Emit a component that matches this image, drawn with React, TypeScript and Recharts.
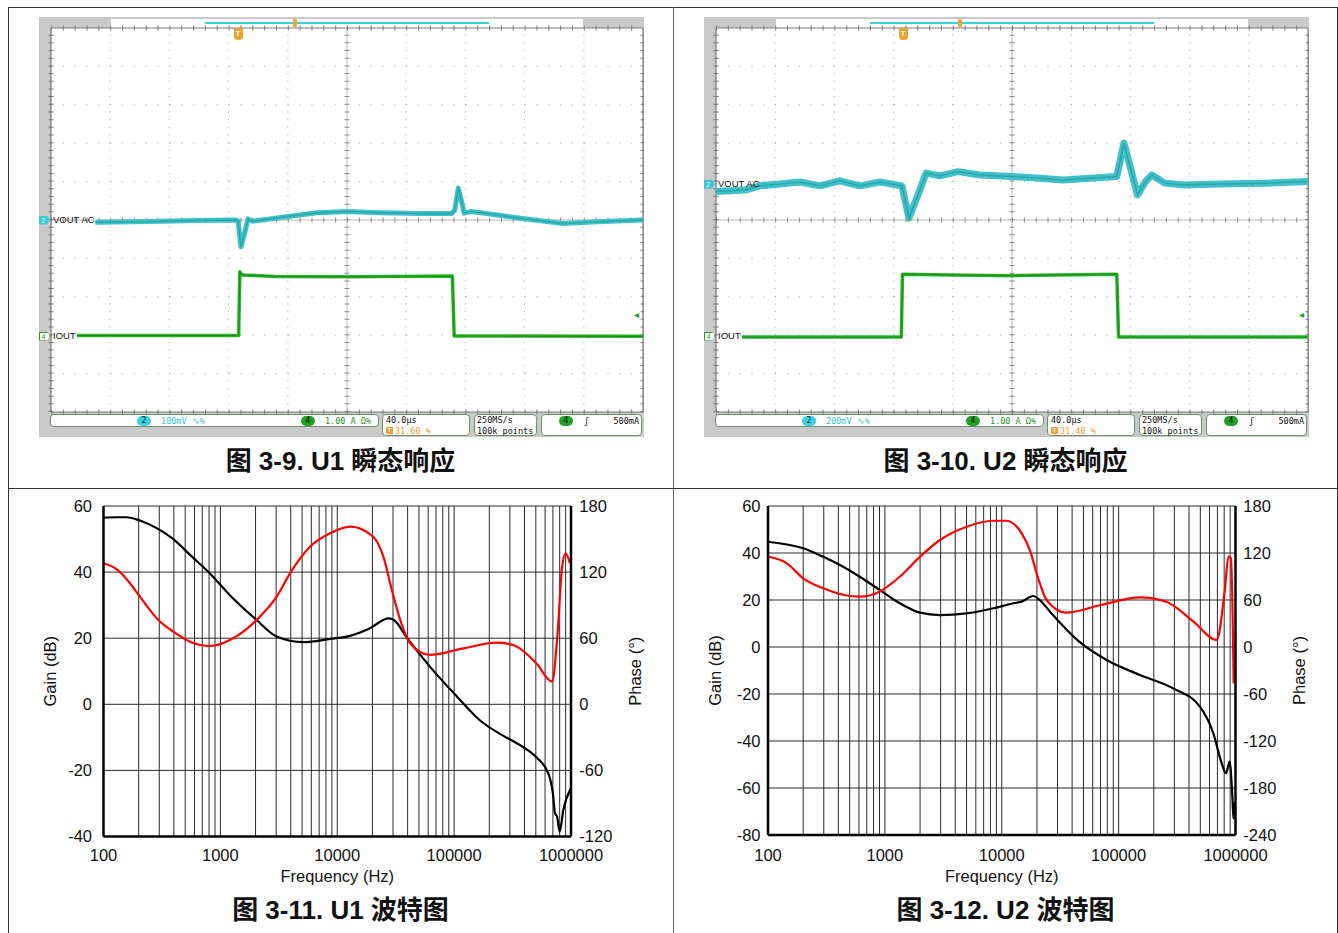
import React from "react";
import { CartesianGrid, Line, LineChart, ReferenceLine, XAxis, YAxis } from "recharts";

const FONT = '"Liberation Sans", Arial, "Noto Sans CJK SC", sans-serif';
const MONO = '"DejaVu Sans Mono", "Liberation Mono", monospace';

// Scope captures: time in divisions (0..10), amplitude in divisions from the centre line
const U1_VOUT_T = [0.75, 1.67, 2.47, 3.11, 3.16, 3.21, 3.27, 3.33, 3.4, 3.56, 4.04, 4.49, 5.01, 5.56, 6.23, 6.77, 6.82, 6.88, 6.93, 6.98, 7.08, 7.26, 7.96, 8.65, 9.34, 10];
const U1_VOUT_V = [-0.06, -0.04, -0.01, 0, -0.02, -0.7, -0.35, 0.03, -0.03, 0, 0.1, 0.19, 0.22, 0.19, 0.17, 0.17, 0.26, 0.83, 0.52, 0.18, 0.22, 0.19, 0.04, -0.09, -0.04, 0];
const U1_IOUT_T = [0.44, 3.17, 3.19, 3.23, 3.8, 5.05, 6.78, 6.81, 10];
const U1_IOUT_V = [-3.01, -3.01, -1.35, -1.43, -1.47, -1.48, -1.46, -3.02, -3.03];

const U2_VOUT_T = [0, 0.49, 0.74, 1.08, 1.42, 1.76, 2.09, 2.43, 2.77, 3.14, 3.26, 3.41, 3.55, 3.78, 4.09, 4.46, 5, 5.47, 5.86, 6.32, 6.77, 6.89, 6.99, 7.12, 7.25, 7.36, 7.58, 7.91, 8.51, 9.27, 10];
const U2_VOUT_V = [0.74, 0.78, 0.89, 0.94, 0.99, 0.89, 1.02, 0.89, 0.99, 0.89, 0.05, 0.65, 1.22, 1.15, 1.26, 1.17, 1.13, 1.09, 1.04, 1.09, 1.13, 2.0, 1.43, 0.65, 0.99, 1.17, 0.96, 0.91, 0.94, 0.96, 1.0];
const U2_IOUT_T = [0.44, 3.13, 3.15, 3.95, 5, 6.77, 6.8, 10];
const U2_IOUT_V = [-3.05, -3.05, -1.41, -1.43, -1.45, -1.41, -3.05, -3.05];

// Bode plots: frequency (Hz), gain (dB), phase (deg)
const U1_GAIN_FREQ = [100, 130, 158, 205, 295, 396, 550, 814, 1206, 2042, 3030, 5100, 8700, 12900, 15700, 19000, 27500, 30500, 39700, 62000, 106000, 165000, 242000, 364000, 500000, 640000, 700000, 730000, 760000, 800000, 860000, 1000000];
const U1_GAIN_DB = [56.5, 56.6, 56.6, 55.6, 53, 50, 45.2, 39.6, 33, 25.5, 20.5, 18.8, 19.8, 20.7, 21.7, 23, 26, 25.5, 20, 11.4, 2.3, -4.75, -8.8, -12.3, -15.9, -20.9, -27, -33, -34, -38.5, -32, -25.4];
const U1_PHASE_FREQ = [100, 130, 158, 205, 295, 396, 550, 814, 1206, 2042, 3030, 3940, 5840, 8700, 12900, 20300, 24800, 29300, 34600, 42000, 62000, 120000, 232000, 320000, 505000, 690000, 760000, 840000, 900000, 980000];
const U1_PHASE_DEG = [128, 122.5, 113.5, 97.7, 76.5, 65.9, 56.8, 52.9, 58.4, 76.5, 97.7, 118.9, 143, 155.2, 161.2, 152.1, 134, 103.8, 76.5, 55.4, 44.8, 50.8, 55.9, 53.8, 37.2, 20.5, 58.4, 124.9, 137, 128];

const U2_GAIN_FREQ = [100, 200, 297, 413, 610, 900, 1340, 2000, 2960, 5000, 8500, 12600, 14800, 18600, 20300, 27400, 46000, 79000, 152000, 293000, 496000, 646000, 762000, 830000, 890000, 940000, 960000, 980000];
const U2_GAIN_DB = [44.8, 42, 38.4, 34.9, 29.9, 24.3, 18.6, 14.6, 13.6, 14.3, 16.5, 18.6, 19.3, 21.7, 20.7, 13.6, 2.3, -5.5, -11.9, -17.6, -25.4, -36.7, -49.5, -53.7, -48.8, -63.7, -72.9, -66];
const U2_PHASE_FREQ = [100, 145, 200, 297, 413, 610, 900, 1340, 2000, 2960, 5000, 8500, 10900, 14800, 17400, 20300, 24200, 35500, 70000, 152000, 256000, 437000, 690000, 810000, 870000, 915000, 965000];
const U2_PHASE_DEG = [115.3, 106.8, 87.7, 74.9, 67.7, 64.2, 70.6, 89.7, 115.3, 136.6, 153.6, 161.2, 161.2, 145.1, 123.8, 89.7, 60, 43.8, 53.6, 63.4, 57.8, 32.3, 9, 72.8, 115.3, 113, -46.3];

const DECADES = [100, 1000, 10000, 100000, 1000000];
const MULTIPLIERS = [1, 2, 3, 4, 5, 6, 7, 8, 9];
const FREQ_GRID = [...DECADES.slice(0, -1).flatMap((d) => MULTIPLIERS.map((m) => m * d)), 1000000];

const U1_GAIN_TICKS = [-40, -20, 0, 20, 40, 60];
const U1_PHASE_TICKS = [-120, -60, 0, 60, 120, 180];
const U2_GAIN_TICKS = [-80, -60, -40, -20, 0, 20, 40, 60];
const U2_PHASE_TICKS = [-240, -180, -120, -60, 0, 60, 120, 180];

const SCOPE_DIV_X = [1, 2, 3, 4, 6, 7, 8, 9];
const SCOPE_DIV_Y = [-4, -3, -2, -1, 1, 2, 3, 4];

type Row = Record<string, number>;

function mergeSeries(xKey: string, parts: [string, number[], number[]][]): Row[] {
  const rows: Row[] = [];
  for (const [key, xs, ys] of parts) xs.forEach((x, i) => rows.push({ [xKey]: x, [key]: ys[i] }));
  return rows.sort((a, b) => a[xKey] - b[xKey]);
}

const GRID_DOT = "#9a9a9a";
const H_DOTS = "1 10.84";
const V_DOTS = "1 6.68";

function Badge({ x, y, color, label }: { x: number; y: number; color: string; label: string }) {
  return (
    <div
      style={{
        position: "absolute", left: x - 7, top: y - 5, width: 14, height: 10, borderRadius: 5,
        background: color, color: "#111", fontSize: 8, lineHeight: "10px", textAlign: "center", fontFamily: MONO,
      }}
    >
      {label}
    </div>
  );
}

function ScopeScreen({
  left, rows, voltsPerDiv, trigPct, voutLevel, band,
}: { left: number; rows: Row[]; voltsPerDiv: string; trigPct: string; voutLevel: number; band: number }) {
  const txt = (x: number, y: number, s: string, color: string, extra: React.CSSProperties = {}) => (
    <div style={{ position: "absolute", left: x, top: y - 6, height: 12, lineHeight: "12px", fontSize: 8.5, fontFamily: MONO, color, whiteSpace: "pre", ...extra }}>
      {s}
    </div>
  );
  const box = (x: number, w: number, h: number) => (
    <div style={{ position: "absolute", left: x, top: 397, width: w, height: h, border: "1px solid #6f8f6f", borderRadius: 4, background: "#fff", boxSizing: "border-box" }} />
  );
  return (
    <div style={{ position: "absolute", left, top: 17, width: 605, height: 420, background: "#c9c9c9", fontFamily: FONT }}>
      <div style={{ position: "absolute", left: 72, top: 1.5, width: 472, height: 9.5, background: "#fff" }} />
      <div style={{ position: "absolute", left: 166, top: 5, width: 284, height: 1.5, background: "#3ccfd6" }} />
      <div style={{ position: "absolute", left: 253.5, top: 2, width: 4, height: 8, background: "#f2a33a", borderRadius: 1 }} />
      <div style={{ position: "absolute", left: 12, top: 11, width: 592, height: 384, background: "#fff" }} />
      <div style={{ position: "absolute", left: 0, top: 0 }}>
        <LineChart width={605} height={420} data={rows} margin={{ top: 11, right: 1, bottom: 25, left: 12 }}>
          <XAxis dataKey="t" type="number" domain={[0, 10]} hide />
          <YAxis type="number" domain={[-5, 5]} hide />
          {SCOPE_DIV_X.map((x) => (
            <ReferenceLine key={`gx${x}`} x={x} stroke={GRID_DOT} strokeDasharray={V_DOTS} />
          ))}
          {SCOPE_DIV_Y.map((y) => (
            <ReferenceLine key={`gy${y}`} y={y} stroke={GRID_DOT} strokeDasharray={H_DOTS} />
          ))}
          <ReferenceLine x={5} stroke="#b8b8b8" />
          <ReferenceLine x={5} stroke="#8a8a8a" strokeWidth={5} strokeDasharray={V_DOTS} />
          <ReferenceLine y={0} stroke="#b8b8b8" />
          <ReferenceLine y={0} stroke="#8a8a8a" strokeWidth={5} strokeDasharray={H_DOTS} />
          {[0, 10].map((x) => (
            <ReferenceLine key={`fx${x}`} x={x} stroke="#7a7a7a" strokeWidth={1.2} />
          ))}
          {[0, 10].map((x) => (
            <ReferenceLine key={`tx${x}`} x={x} stroke="#7a7a7a" strokeWidth={5} strokeDasharray={V_DOTS} />
          ))}
          {[-5, 5].map((y) => (
            <ReferenceLine key={`fy${y}`} y={y} stroke="#7a7a7a" strokeWidth={1.2} />
          ))}
          {[-5, 5].map((y) => (
            <ReferenceLine key={`ty${y}`} y={y} stroke="#7a7a7a" strokeWidth={5} strokeDasharray={H_DOTS} />
          ))}
          <Line dataKey="vout" type="linear" stroke="#40c0c8" strokeWidth={band} strokeLinejoin="round" dot={false} connectNulls isAnimationActive={false} />
          <Line dataKey="vout" type="linear" stroke="#2aa6ae" strokeWidth={1.5} dot={false} connectNulls isAnimationActive={false} />
          <Line dataKey="iout" type="linear" stroke="#2cb82c" strokeWidth={3.5} strokeLinejoin="round" dot={false} connectNulls isAnimationActive={false} />
          <Line dataKey="iout" type="linear" stroke="#1a901a" strokeWidth={1.3} dot={false} connectNulls isAnimationActive={false} />
        </LineChart>
      </div>

      {/* trigger position marker */}
      <div style={{ position: "absolute", left: 194.5, top: 11, width: 9, height: 12, background: "#f0a030", borderRadius: "1px 1px 4px 4px", color: "#fff", fontSize: 8, fontWeight: "bold", lineHeight: "12px", textAlign: "center" }}>T</div>

      {/* channel labels */}
      <div style={{ position: "absolute", left: 0, top: voutLevel - 4.5, width: 11, height: 9, background: "#35c9d8", clipPath: "polygon(0 0, 70% 0, 100% 50%, 70% 100%, 0 100%)", color: "#fff", fontSize: 7.5, lineHeight: "9px", paddingLeft: 2, boxSizing: "border-box" }}>2</div>
      <div style={{ position: "absolute", left: 14, top: voutLevel - 6.5, fontSize: 9.5, lineHeight: "12px", color: "#111" }}>VOUT AC</div>
      <div style={{ position: "absolute", left: 0, top: 314.5, width: 11, height: 9, border: "1px solid #22a022", clipPath: "polygon(0 0, 70% 0, 100% 50%, 70% 100%, 0 100%)", background: "#fff", color: "#22a022", fontSize: 7.5, lineHeight: "8px", paddingLeft: 1.5, boxSizing: "border-box" }}>4</div>
      <div style={{ position: "absolute", left: 14, top: 312.5, fontSize: 9.5, lineHeight: "12px", color: "#111" }}>IOUT</div>
      <div style={{ position: "absolute", left: 595, top: 292, fontSize: 10, lineHeight: "12px", color: "#1fa81f" }}>◂</div>

      {/* readouts */}
      {box(11, 329, 13)}
      {box(343, 88, 22)}
      {box(435, 63, 22)}
      {box(502, 101, 22)}
      <Badge x={105} y={403.5} color="#3ad0e0" label="2" />
      {txt(122, 403.5, `${voltsPerDiv} ∿%`, "#38c5d5")}
      <Badge x={269} y={403.5} color="#22a022" label="4" />
      {txt(286, 403.5, "1.00 A Ω%", "#1a941a")}
      {txt(347, 402.5, "40.0µs", "#111")}
      <div style={{ position: "absolute", left: 347, top: 410, width: 7, height: 7, background: "#f0a030", color: "#fff", fontSize: 6, lineHeight: "7px", textAlign: "center", fontWeight: "bold" }}>T</div>
      {txt(356, 413.5, trigPct, "#f0a030")}
      {txt(438, 402.5, "250MS/s", "#111")}
      {txt(438, 413.5, "100k points", "#111")}
      <Badge x={527} y={403.5} color="#22a022" label="4" />
      {txt(545, 403.5, "ʃ", "#111")}
      {txt(570, 403.5, "500mA", "#111", { width: 30, textAlign: "right" })}
    </div>
  );
}

const FRAME = { stroke: "#000", strokeWidth: 2.5 };
const TICK = { fill: "#111", fontSize: 16.5 };
const fmtFreq = (v: number) => (DECADES.includes(v) ? String(v) : "");

function BodePlot({
  left, width, height, bottom, rows, gainTicks, phaseTicks, gainTickMargin, phaseTickMargin, leftWidth, freqOffset, freqTickMargin,
}: {
  left: number; width: number; height: number; bottom: number; rows: Row[]; gainTicks: number[]; phaseTicks: number[];
  gainTickMargin: number; phaseTickMargin: number; leftWidth: number; freqOffset: number; freqTickMargin: number;
}) {
  return (
    <div style={{ position: "absolute", left, top: 490, fontFamily: FONT }}>
      <LineChart width={width} height={height} data={rows} margin={{ top: 16, right: 10, bottom, left: 10 }}>
        <CartesianGrid xAxisId="b" yAxisId="gain" stroke="#2a2a2a" strokeWidth={1} />
        <XAxis
          xAxisId="b" dataKey="f" type="number" scale="log" domain={[100, 1000000]} ticks={FREQ_GRID} interval={0}
          tickFormatter={fmtFreq} tickLine={false} tickMargin={freqTickMargin} axisLine={FRAME} tick={TICK} height={50} allowDataOverflow
          label={{ value: "Frequency (Hz)", position: "insideBottom", offset: freqOffset, fill: "#111", fontSize: 16.5 }}
        />
        <XAxis
          xAxisId="t" orientation="top" dataKey="f" type="number" scale="log" domain={[100, 1000000]}
          height={0} tick={false} tickLine={false} axisLine={FRAME} allowDataOverflow
        />
        <YAxis
          yAxisId="gain" domain={[gainTicks[0], gainTicks[gainTicks.length - 1]]} ticks={gainTicks} interval={0}
          width={leftWidth} tickLine={false} tickMargin={gainTickMargin} axisLine={FRAME} tick={TICK} allowDataOverflow
          label={{ value: "Gain (dB)", angle: -90, position: "insideLeft", offset: 20, fill: "#111", fontSize: 16.5, style: { textAnchor: "middle" } }}
        />
        <YAxis
          yAxisId="phase" orientation="right" domain={[phaseTicks[0], phaseTicks[phaseTicks.length - 1]]} ticks={phaseTicks} interval={0}
          width={75} tickLine={false} tickMargin={phaseTickMargin} axisLine={FRAME} tick={TICK} allowDataOverflow
          label={{ value: "Phase (°)", angle: -90, position: "insideRight", offset: 11, fill: "#111", fontSize: 16.5, style: { textAnchor: "middle" } }}
        />
        <Line xAxisId="b" yAxisId="gain" dataKey="gain" type="monotone" stroke="#000" strokeWidth={2.2} dot={false} connectNulls isAnimationActive={false} />
        <Line xAxisId="b" yAxisId="phase" dataKey="phase" type="monotone" stroke="#ff0000" strokeWidth={2.2} dot={false} connectNulls isAnimationActive={false} />
      </LineChart>
    </div>
  );
}

const SCOPE1_ROWS = mergeSeries("t", [["vout", U1_VOUT_T, U1_VOUT_V], ["iout", U1_IOUT_T, U1_IOUT_V]]);
const SCOPE2_ROWS = mergeSeries("t", [["vout", U2_VOUT_T, U2_VOUT_V], ["iout", U2_IOUT_T, U2_IOUT_V]]);
const BODE1_ROWS = mergeSeries("f", [["gain", U1_GAIN_FREQ, U1_GAIN_DB], ["phase", U1_PHASE_FREQ, U1_PHASE_DEG]]);
const BODE2_ROWS = mergeSeries("f", [["gain", U2_GAIN_FREQ, U2_GAIN_DB], ["phase", U2_PHASE_FREQ, U2_PHASE_DEG]]);

function Caption({ left, top, text }: { left: number; top: number; text: string }) {
  return (
    <div style={{ position: "absolute", left, top, width: 665, height: 30, lineHeight: "30px", textAlign: "center", fontSize: 26, fontWeight: "bold", color: "#111", fontFamily: FONT }}>
      {text}
    </div>
  );
}

export default function App() {
  const line = (l: number, t: number, w: number, h: number, c = "#444") => (
    <div style={{ position: "absolute", left: l, top: t, width: w, height: h, background: c }} />
  );
  return (
    <div style={{ position: "absolute", left: 0, top: 0, width: 1338, height: 933, background: "#fff", overflow: "hidden" }}>
      {line(8, 7, 1330, 1, "#333")}
      {line(8, 7, 1, 926, "#333")}
      {line(1337, 7, 1, 926, "#333")}
      {line(673, 7, 1, 926, "#666")}
      {line(8, 488, 1330, 1, "#333")}

      <ScopeScreen left={39} rows={SCOPE1_ROWS} voltsPerDiv="100mV" trigPct="31.60 %" voutLevel={203} band={5} />
      <ScopeScreen left={704} rows={SCOPE2_ROWS} voltsPerDiv="200mV" trigPct="31.40 %" voutLevel={167} band={7} />
      <Caption left={8} top={446} text="图 3-9. U1 瞬态响应" />
      <Caption left={673} top={446} text="图 3-10. U2 瞬态响应" />

      <BodePlot left={20} width={636} height={410} bottom={13.5} rows={BODE1_ROWS} gainTicks={U1_GAIN_TICKS} phaseTicks={U1_PHASE_TICKS} gainTickMargin={5.5} phaseTickMargin={2.3} leftWidth={73.5} freqOffset={4.5} freqTickMargin={6.5} />
      <BodePlot left={685} width={635.5} height={408.5} bottom={13.5} rows={BODE2_ROWS} gainTicks={U2_GAIN_TICKS} phaseTicks={U2_PHASE_TICKS} gainTickMargin={1.5} phaseTickMargin={1.8} leftWidth={73} freqOffset={3} freqTickMargin={8.5} />
      <Caption left={8} top={895} text="图 3-11. U1 波特图" />
      <Caption left={673} top={895} text="图 3-12. U2 波特图" />
    </div>
  );
}
